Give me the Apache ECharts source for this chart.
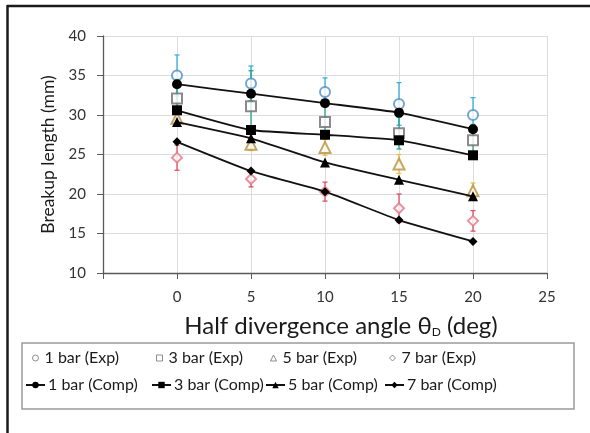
<!DOCTYPE html>
<html><head><meta charset="utf-8">
<script src="https://cdn.jsdelivr.net/npm/echarts@6/dist/echarts.min.js"></script>
<style>html,body{margin:0;padding:0;background:#fff}#c{width:590px;height:433px}</style>
</head><body><div id="c"></div>
<script>
const angles = [0, 5, 10, 15, 20];
const xTicks = [0, 5, 10, 15, 20, 25];
const yTicks = [10, 15, 20, 25, 30, 35, 40];

const exp1 = [35.0, 34.0, 32.9, 31.4, 30.0];
const exp1Err = [2.6, 2.2, 1.8, 2.7, 2.2];
const exp3 = [32.1, 31.1, 29.1, 27.7, 26.8];
const exp3Err = [2.5, 4.5, 2.0, 2.0, 2.0];
const exp5 = [29.6, 26.3, 25.9, 23.8, 20.4];
const exp5Err = [0.8, 0.8, 1.0, 1.2, 1.0];
const exp7 = [24.6, 21.9, 20.3, 18.2, 16.6];
const exp7Err = [1.6, 1.0, 1.2, 1.8, 1.3];

const comp1 = [33.9, 32.7, 31.5, 30.3, 28.2];
const comp3 = [30.6, 28.1, 27.5, 26.8, 24.9];
const comp5 = [29.1, 27.05, 24.0, 21.8, 19.7];
const comp7 = [26.6, 22.9, 20.3, 16.7, 14.0];

const expNames = ['1 bar (Exp)', '3 bar (Exp)', '5 bar (Exp)', '7 bar (Exp)'];
const compNames = ['1 bar (Comp)', '3 bar (Comp)', '5 bar (Comp)', '7 bar (Comp)'];

const FONT = 'Lato';
const errColors = ['#35b0dc', '#22a58e', '#f2bd45', '#e0505e'];
const expColors = ['#4f8fc4', '#6e6e6e', '#b8903a', '#e07888'];
const expSymbols = ['emptyCircle', 'emptyRect', 'emptyTriangle', 'emptyDiamond'];
const legendIcons = ['circle', 'rect', 'triangle', 'diamond'];
const compSymbols = ['circle', 'rect', 'triangle', 'diamond'];
const compSizes = [10, 10, 10, 9];

const expVals = [exp1, exp3, exp5, exp7];
const expErrs = [exp1Err, exp3Err, exp5Err, exp7Err];
const compVals = [comp1, comp3, comp5, comp7];

function pairs(vals) { return angles.map((a, i) => [a, vals[i]]); }

const series = [];
expVals.forEach((vals, k) => {
  series.push({
    type: 'custom', name: 'err' + k, silent: true, z: 2,
    data: angles.map((a, i) => [a, vals[i] - expErrs[k][i], vals[i] + expErrs[k][i]]),
    renderItem: function (params, api) {
      const lo = api.coord([api.value(0), api.value(1)]);
      const hi = api.coord([api.value(0), api.value(2)]);
      const w = 2.5;
      const st = { stroke: errColors[k], lineWidth: 1.3 };
      return { type: 'group', children: [
        { type: 'line', shape: { x1: lo[0], y1: lo[1], x2: hi[0], y2: hi[1] }, style: st },
        { type: 'line', shape: { x1: lo[0] - w, y1: lo[1], x2: lo[0] + w, y2: lo[1] }, style: st },
        { type: 'line', shape: { x1: hi[0] - w, y1: hi[1], x2: hi[0] + w, y2: hi[1] }, style: st }
      ] };
    }
  });
});
expVals.forEach((vals, k) => {
  series.push({
    type: 'scatter', name: expNames[k], z: 3,
    symbol: expSymbols[k], symbolSize: k === 2 ? 11 : 10,
    itemStyle: { color: expColors[k], borderColor: expColors[k], borderWidth: 1.3 },
    data: pairs(vals)
  });
});
compVals.forEach((vals, k) => {
  series.push({
    type: 'line', name: compNames[k], z: 4, smooth: 0.15,
    symbol: compSymbols[k], symbolSize: compSizes[k],
    lineStyle: { color: '#111', width: 1.8 },
    itemStyle: { color: '#000' },
    data: pairs(vals)
  });
});

const legendPos = [
  [32, 350], [156, 350], [270, 350], [389, 350],
  [25, 377], [151, 377], [265, 377], [384, 377]
];
const allNames = expNames.concat(compNames);
const legends = allNames.map((n, i) => ({
  data: [{ name: n, icon: i < 4 ? legendIcons[i] : undefined,
           itemStyle: i < 4 ? { borderWidth: 1, borderColor: '#707070', color: '#ffffff' } : undefined }],
  left: legendPos[i][0], top: legendPos[i][1],
  itemWidth: i < 4 ? 6 : 19, itemHeight: i < 4 ? 6 : 8, itemGap: 4,
  textStyle: { fontFamily: FONT, fontSize: 16, color: '#1a1a1a', padding: [0, 0, 0, i < 4 ? 1 : -2] },
  padding: 0, selectedMode: false
}));

const chart = echarts.init(document.getElementById('c'), null, { renderer: 'canvas' });
chart.setOption({
  backgroundColor: '#fff',
  animation: false,
  grid: { left: 103, right: 43, top: 36, bottom: 160, containLabel: false },
  xAxis: {
    type: 'value', min: -5, max: 25, interval: 5,
    name: 'Half divergence angle θ{sub|D} (deg)', nameLocation: 'middle', nameGap: 41,
    nameTextStyle: { fontFamily: FONT, fontSize: 24, color: '#1a1a1a', padding: [0, 0, 0, 32],
      rich: { sub: { fontFamily: FONT, fontSize: 12, verticalAlign: 'bottom', padding: [12, 0, 0, 0], color: '#1a1a1a' } } },
    axisLine: { onZero: false, lineStyle: { color: '#5a5a5a', width: 1.3 } },
    axisTick: { show: true, inside: false, length: 6, lineStyle: { color: '#5a5a5a' } },
    axisLabel: { fontFamily: FONT, fontSize: 15, color: '#333', margin: 17,
      formatter: v => xTicks.indexOf(v) >= 0 ? String(v) : '' },
    splitLine: { show: true, lineStyle: { color: '#dcdcdc', width: 1 } }
  },
  yAxis: {
    type: 'value', min: 10, max: 40, interval: 5,
    name: 'Breakup length (mm)', nameLocation: 'middle', nameGap: 46,
    nameTextStyle: { fontFamily: FONT, fontSize: 17.5, color: '#1a1a1a' },
    axisLine: { show: true, onZero: false, lineStyle: { color: '#5a5a5a', width: 1.3 } },
    axisTick: { show: true, inside: false, length: 6, lineStyle: { color: '#5a5a5a' } },
    axisLabel: { fontFamily: FONT, fontSize: 15, color: '#333', margin: 17,
      formatter: v => yTicks.indexOf(v) >= 0 ? String(v) : '' },
    splitLine: { show: true, lineStyle: { color: '#dcdcdc', width: 1 } }
  },
  legend: legends,
  graphic: [
    { type: 'rect', shape: { x: 22, y: 343, width: 552, height: 66 }, style: { fill: 'none', stroke: '#9a9a9a', lineWidth: 1.5 }, z: 0 },
    { type: 'line', shape: { x1: 7, y1: 6, x2: 590, y2: 6 }, style: { stroke: '#1a1a1a', lineWidth: 2.5 } },
    { type: 'line', shape: { x1: 7.5, y1: 5, x2: 7.5, y2: 433 }, style: { stroke: '#1a1a1a', lineWidth: 2.5 } }
  ],
  series: series
});
</script></body></html>
